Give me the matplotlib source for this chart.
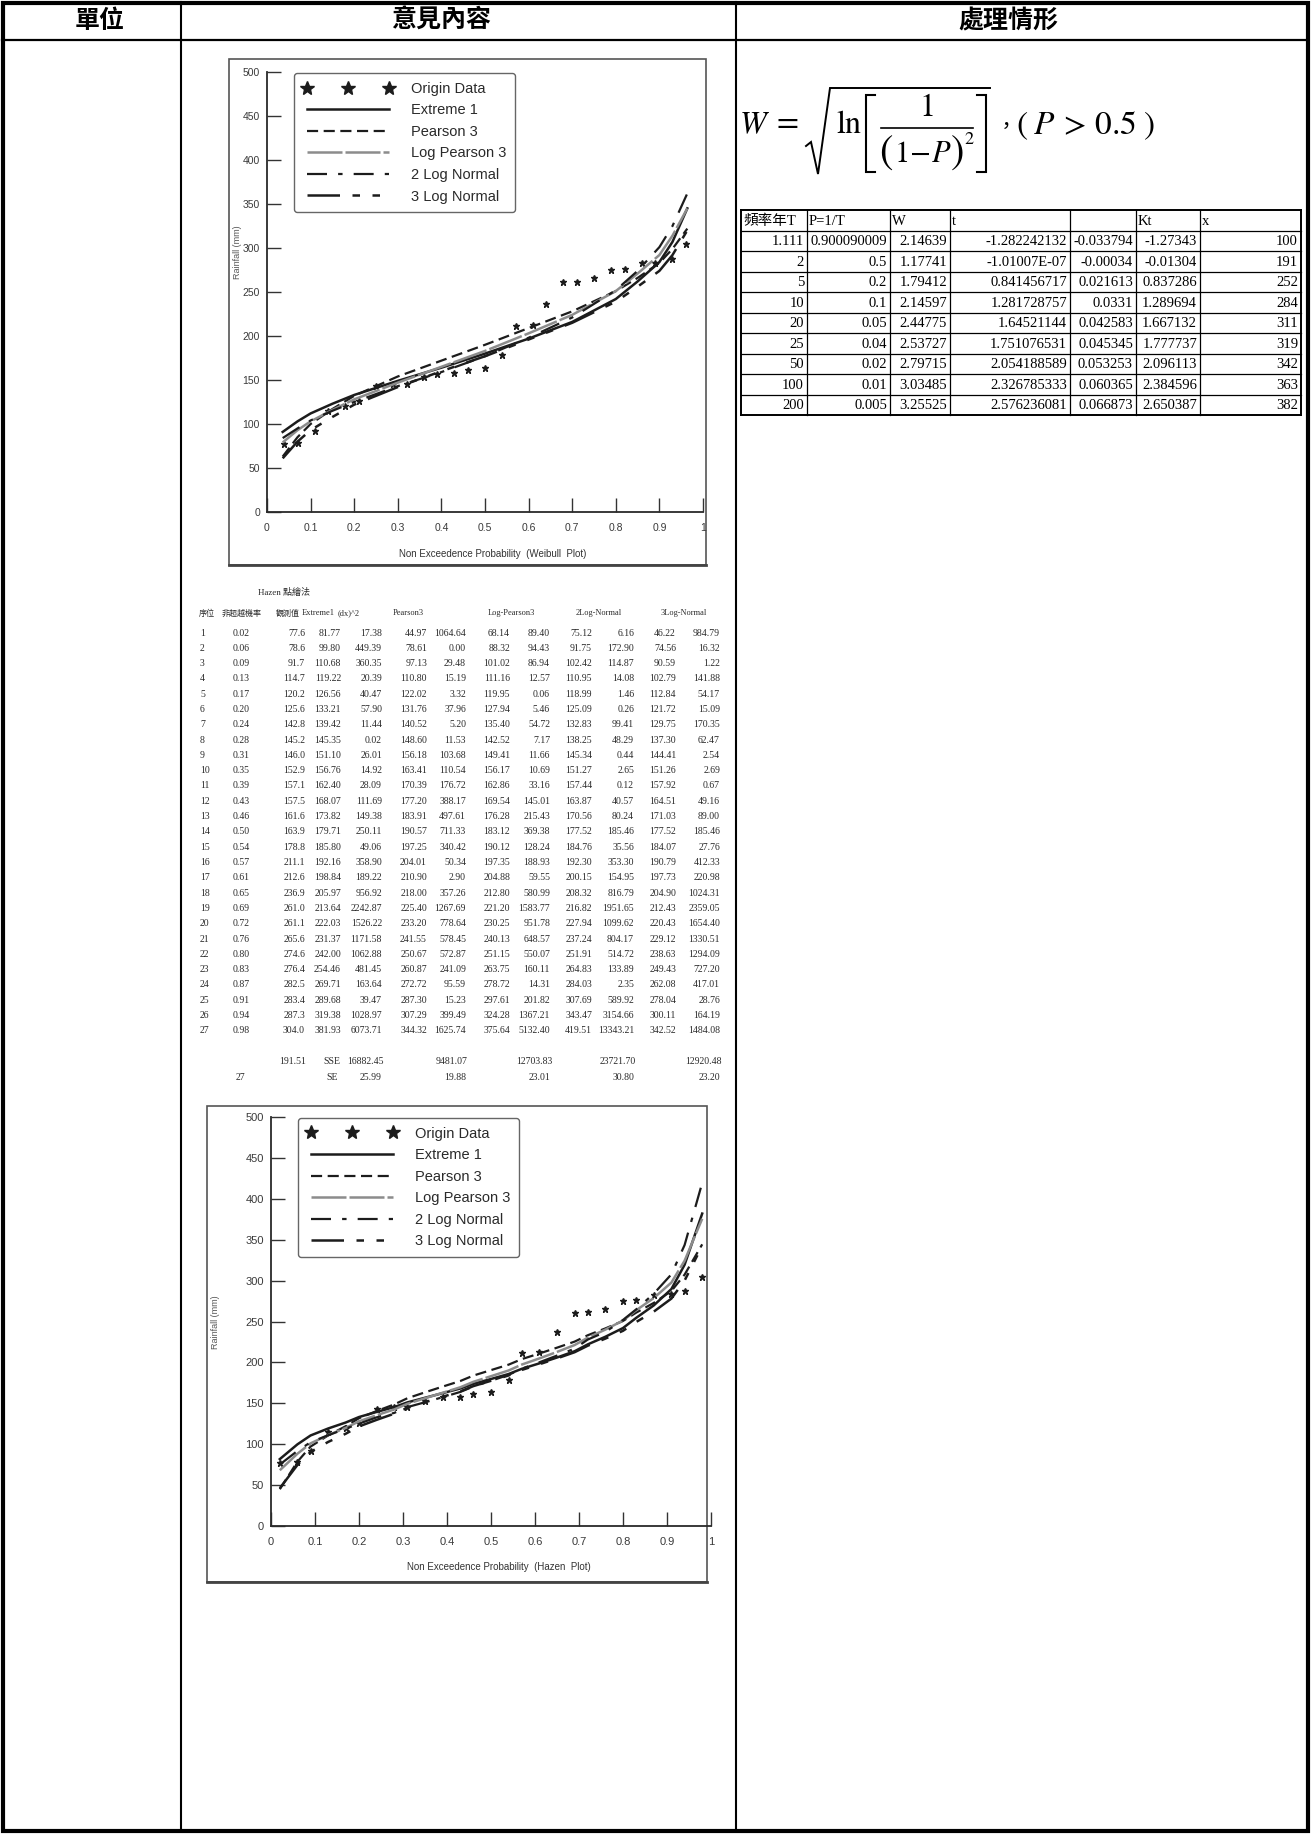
import numpy as np
import matplotlib
matplotlib.use("Agg")
import matplotlib.pyplot as plt
from matplotlib.patches import Rectangle

plt.rcParams["mathtext.fontset"] = "stix"

W_PX, H_PX, DPI = 1311, 1834, 100

# ---------------- data ----------------
column_titles = ["單位", "意見內容", "處理情形"]

rank = list(range(1, 28))
hazen_p = [0.02, 0.06, 0.09, 0.13, 0.17, 0.20, 0.24, 0.28, 0.31, 0.35, 0.39, 0.43, 0.46, 0.50,
           0.54, 0.57, 0.61, 0.65, 0.69, 0.72, 0.76, 0.80, 0.83, 0.87, 0.91, 0.94, 0.98]
observed = [77.6, 78.6, 91.7, 114.7, 120.2, 125.6, 142.8, 145.2, 146.0, 152.9, 157.1, 157.5, 161.6, 163.9,
            178.8, 211.1, 212.6, 236.9, 261.0, 261.1, 265.6, 274.6, 276.4, 282.5, 283.4, 287.3, 304.0]
extreme1 = [81.77, 99.80, 110.68, 119.22, 126.56, 133.21, 139.42, 145.35, 151.10, 156.76, 162.40, 168.07, 173.82, 179.71,
            185.80, 192.16, 198.84, 205.97, 213.64, 222.03, 231.37, 242.00, 254.46, 269.71, 289.68, 319.38, 381.93]
extreme1_d2 = [17.38, 449.39, 360.35, 20.39, 40.47, 57.90, 11.44, 0.02, 26.01, 14.92, 28.09, 111.69, 149.38, 250.11,
               49.06, 358.90, 189.22, 956.92, 2242.87, 1526.22, 1171.58, 1062.88, 481.45, 163.64, 39.47, 1028.97, 6073.71]
pearson3 = [44.97, 78.61, 97.13, 110.80, 122.02, 131.76, 140.52, 148.60, 156.18, 163.41, 170.39, 177.20, 183.91, 190.57,
            197.25, 204.01, 210.90, 218.00, 225.40, 233.20, 241.55, 250.67, 260.87, 272.72, 287.30, 307.29, 344.32]
pearson3_d2 = [1064.64, 0.00, 29.48, 15.19, 3.32, 37.96, 5.20, 11.53, 103.68, 110.54, 176.72, 388.17, 497.61, 711.33,
               340.42, 50.34, 2.90, 357.26, 1267.69, 778.64, 578.45, 572.87, 241.09, 95.59, 15.23, 399.49, 1625.74]
logpearson3 = [68.14, 88.32, 101.02, 111.16, 119.95, 127.94, 135.40, 142.52, 149.41, 156.17, 162.86, 169.54, 176.28, 183.12,
               190.12, 197.35, 204.88, 212.80, 221.20, 230.25, 240.13, 251.15, 263.75, 278.72, 297.61, 324.28, 375.64]
logpearson3_d2 = [89.40, 94.43, 86.94, 12.57, 0.06, 5.46, 54.72, 7.17, 11.66, 10.69, 33.16, 145.01, 215.43, 369.38,
                  128.24, 188.93, 59.55, 580.99, 1583.77, 951.78, 648.57, 550.07, 160.11, 14.31, 201.82, 1367.21, 5132.40]
lognormal2 = [75.12, 91.75, 102.42, 110.95, 118.99, 125.09, 132.83, 138.25, 145.34, 151.27, 157.44, 163.87, 170.56, 177.52,
              184.76, 192.30, 200.15, 208.32, 216.82, 227.94, 237.24, 251.91, 264.83, 284.03, 307.69, 343.47, 419.51]
lognormal2_d2 = [6.16, 172.90, 114.87, 14.08, 1.46, 0.26, 99.41, 48.29, 0.44, 2.65, 0.12, 40.57, 80.24, 185.46,
                 35.56, 353.30, 154.95, 816.79, 1951.65, 1099.62, 804.17, 514.72, 133.89, 2.35, 589.92, 3154.66, 13343.21]
lognormal3 = [46.22, 74.56, 90.59, 102.79, 112.84, 121.72, 129.75, 137.30, 144.41, 151.26, 157.92, 164.51, 171.03, 177.52,
              184.07, 190.79, 197.73, 204.90, 212.43, 220.43, 229.12, 238.63, 249.43, 262.08, 278.04, 300.11, 342.52]
lognormal3_d2 = [984.79, 16.32, 1.22, 141.88, 54.17, 15.09, 170.35, 62.47, 2.54, 2.69, 0.67, 49.16, 89.00, 185.46,
                 27.76, 412.33, 220.98, 1024.31, 2359.05, 1654.40, 1330.51, 1294.09, 727.20, 417.01, 28.76, 164.19, 1484.08]
sse_values = [16882.45, 9481.07, 12703.83, 23721.70, 12920.48]
se_values = [25.99, 19.88, 23.01, 30.80, 23.20]
observed_mean = 191.51
sample_size = 27

# Weibull plotting positions and fitted curves (Weibull chart)
weibull_p = [0.04, 0.07, 0.11, 0.14, 0.18, 0.21, 0.25, 0.29, 0.32, 0.36, 0.39, 0.43, 0.46, 0.50,
             0.54, 0.57, 0.61, 0.64, 0.68, 0.71, 0.75, 0.79, 0.82, 0.86, 0.89, 0.93, 0.96]
weibull_curve_p = [0.036, 0.07, 0.10, 0.15, 0.20, 0.30, 0.40, 0.50, 0.60, 0.70, 0.80, 0.85, 0.90, 0.93, 0.964]
weibull_e1 = [91, 103, 112, 123, 133, 149, 164, 180, 197, 216, 242, 262, 284, 307, 345]
weibull_p3 = [63, 85, 100, 117, 132, 154, 172, 190, 209, 228, 251, 266, 283, 299, 322]
weibull_lp3 = [79, 93, 103, 116, 128, 147, 165, 183, 203, 224, 251, 271, 292, 314, 345]
weibull_2ln = [84, 95, 104, 115, 125, 143, 159, 177, 198, 221, 252, 274, 301, 325, 362]
weibull_3ln = [61, 80, 93, 108, 122, 142, 160, 177, 196, 215, 239, 256, 274, 292, 320]

# frequency table (right column)
freq_headers = ["頻率年T", "P=1/T", "W", "t", "", "Kt", "x"]
freq_T = ["1.111", "2", "5", "10", "20", "25", "50", "100", "200"]
freq_P = ["0.900090009", "0.5", "0.2", "0.1", "0.05", "0.04", "0.02", "0.01", "0.005"]
freq_W = ["2.14639", "1.17741", "1.79412", "2.14597", "2.44775", "2.53727", "2.79715", "3.03485", "3.25525"]
freq_t = ["-1.282242132", "-1.01007E-07", "0.841456717", "1.281728757", "1.64521144",
          "1.751076531", "2.054188589", "2.326785333", "2.576236081"]
freq_corr = ["-0.033794", "-0.00034", "0.021613", "0.0331", "0.042583", "0.045345", "0.053253", "0.060365", "0.066873"]
freq_Kt = ["-1.27343", "-0.01304", "0.837286", "1.289694", "1.667132", "1.777737", "2.096113", "2.384596", "2.650387"]
freq_x = [100, 191, 252, 284, 311, 319, 342, 363, 382]

series_names = ["Extreme 1", "Pearson 3", "Log Pearson 3", "2 Log Normal", "3 Log Normal"]

# ---------------- styles ----------------
INK = "#1c1c1c"
line_styles = {
    "Extreme 1": dict(color=INK, lw=1.8, ls="-"),
    "Pearson 3": dict(color=INK, lw=1.6, ls=(0, (5, 2.5))),
    "Log Pearson 3": dict(color="#8c8c8c", lw=1.8, ls=(0, (14, 1.2))),
    "2 Log Normal": dict(color=INK, lw=1.6, ls=(0, (9, 5, 2, 5))),
    "3 Log Normal": dict(color=INK, lw=1.8, ls=(0, (13, 5, 3, 5, 3, 5, 3, 5))),
}
SERIF = ["Liberation Serif", "Noto Sans CJK TC"]
CJK = ["Noto Sans CJK TC", "DejaVu Sans"]
SANS = "Liberation Sans"

fig = plt.figure(figsize=(W_PX / DPI, H_PX / DPI), dpi=DPI)
page = fig.add_axes([0, 0, 1, 1])
page.set_xlim(0, W_PX)
page.set_ylim(H_PX, 0)
page.axis("off")


def px_box(x0, y0, x1, y1):
    return [x0 / W_PX, 1 - y1 / H_PX, (x1 - x0) / W_PX, (y1 - y0) / H_PX]


# ---------------- outer form ----------------
page.add_patch(Rectangle((2.5, 2.5), W_PX - 6, H_PX - 6, fill=False, lw=3.0, ec="black", zorder=5))
page.plot([2, W_PX - 3], [40, 40], color="black", lw=1.6, zorder=5)
for xd in (181, 736):
    page.plot([xd, xd], [2, H_PX - 3], color="black", lw=1.5, zorder=5)
for title, xc in zip(column_titles, (100, 441, 1008)):
    page.text(xc, 21, title, family=CJK, fontsize=18, fontweight="bold", ha="center", va="center")


# ---------------- charts ----------------
def draw_chart(frame, axbox, p_pts, pts, curve_p, curves, xlabel, xlab_y, ylab_xy, tick_fs):
    fx0, fy0, fx1, fy1 = frame
    page.add_patch(Rectangle((fx0, fy0), fx1 - fx0, fy1 - fy0, fill=False, lw=1.2, ec="#555555", zorder=2))
    page.plot([fx0, fx1], [fy1, fy1], color="#444444", lw=2.0, zorder=2)
    ax = fig.add_axes(px_box(*axbox))
    ax.set_facecolor("none")
    ax.plot(p_pts, pts, ls="none", marker="*", ms=5, color=INK, label="Origin Data")
    for name, vals in zip(series_names, curves):
        ax.plot(curve_p, vals, label=name, **line_styles[name])
    ax.set_xlim(0, 1)
    ax.set_ylim(0, 500)
    ax.set_xticks(np.arange(0, 1.01, 0.1))
    ax.set_xticklabels(["0"] + [f"{v:.1f}" for v in np.arange(0.1, 0.95, 0.1)] + ["1"])
    ax.set_yticks(np.arange(0, 501, 50))
    for s in ("top", "right"):
        ax.spines[s].set_visible(False)
    for s in ("left", "bottom"):
        ax.spines[s].set_color("#2a2a2a")
        ax.spines[s].set_linewidth(1.3)
    ax.tick_params(axis="both", direction="in", length=10, width=1.0, color="#333333",
                   labelsize=tick_fs, labelcolor="#3a3a3a")
    ax.tick_params(axis="x", pad=8)
    ax.tick_params(axis="y", pad=5)
    for lab in ax.get_xticklabels() + ax.get_yticklabels():
        lab.set_family(SANS)
    leg = ax.legend(loc="upper left", bbox_to_anchor=(0.062, 0.998), borderaxespad=0,
                    prop={"family": SANS, "size": 10.5}, numpoints=3, markerscale=2.0,
                    handlelength=6.2, handletextpad=1.2, labelspacing=0.52, borderpad=0.6,
                    fancybox=True, framealpha=1, edgecolor="#666666")
    leg.get_frame().set_linewidth(1.0)
    for t in leg.get_texts():
        t.set_color("#2a2a2a")
    xc = (axbox[0] + axbox[2]) / 2
    page.text(xc + 8, xlab_y, xlabel, family=SANS, fontsize=7, color="#333333", ha="center", va="center")
    page.text(ylab_xy[0], ylab_xy[1], "Rainfall (mm)", family=SANS, fontsize=6.5, color="#555555",
              rotation=90, ha="center", va="center")
    return ax


draw_chart((229, 59, 706, 565), (267, 72, 703, 512), weibull_p, observed, weibull_curve_p,
           [weibull_e1, weibull_p3, weibull_lp3, weibull_2ln, weibull_3ln],
           "Non Exceedence Probability  (Weibull  Plot)", 554, (238, 252), 7.5)
draw_chart((207, 1106, 707, 1582), (271, 1117, 711, 1526), hazen_p, observed, hazen_p,
           [extreme1, pearson3, logpearson3, lognormal2, lognormal3],
           "Non Exceedence Probability  (Hazen  Plot)", 1567, (215, 1322), 8)

# ---------------- Hazen table ----------------
TXT = "#2a2a2a"
TFS = 7
page.text(258, 592, "Hazen 點繪法", family=SERIF, fontsize=6.5, color=TXT, ha="left", va="center")
hdr_y = 613
page.text(199, hdr_y, "序位", family=CJK, fontsize=5.8, color=TXT, ha="left", va="center")
page.text(242, hdr_y, "非超越機率", family=CJK, fontsize=5.8, color=TXT, ha="center", va="center")
page.text(288, hdr_y, "觀測值", family=CJK, fontsize=5.8, color=TXT, ha="center", va="center")
for label, xc in [("Extreme1", 318), ("(dx)^2", 349), ("Pearson3", 408), ("Log-Pearson3", 511),
                  ("2Log-Normal", 599), ("3Log-Normal", 684)]:
    page.text(xc, hdr_y, label, family=SERIF, fontsize=6, color=TXT, ha="center", va="center")

right_edges = [341, 382, 427, 466, 510, 550, 592, 634, 676, 720]
value_cols = [extreme1, extreme1_d2, pearson3, pearson3_d2, logpearson3, logpearson3_d2,
              lognormal2, lognormal2_d2, lognormal3, lognormal3_d2]
row0, dy = 633, 15.3
for i in range(len(rank)):
    y = row0 + i * dy
    page.text(200, y, str(rank[i]), family=SERIF, fontsize=TFS, color=TXT, ha="left", va="center")
    page.text(241, y, f"{hazen_p[i]:.2f}", family=SERIF, fontsize=TFS, color=TXT, ha="center", va="center")
    page.text(305, y, f"{observed[i]:.1f}", family=SERIF, fontsize=TFS, color=TXT, ha="right", va="center")
    for xr, col in zip(right_edges, value_cols):
        page.text(xr, y, f"{col[i]:.2f}", family=SERIF, fontsize=TFS, color=TXT, ha="right", va="center")

y_sse = 1062
y_se = 1077
page.text(306, y_sse, f"{observed_mean:.2f}", family=SERIF, fontsize=TFS, color=TXT, ha="right", va="center")
page.text(340, y_sse, "SSE", family=SERIF, fontsize=TFS, color=TXT, ha="right", va="center")
page.text(338, y_se, "SE", family=SERIF, fontsize=TFS, color=TXT, ha="right", va="center")
page.text(240, y_se, str(sample_size), family=SERIF, fontsize=TFS, color=TXT, ha="center", va="center")
for xr, v_sse, v_se in zip(right_edges[1::2], sse_values, se_values):
    page.text(xr + 2, y_sse, f"{v_sse:.2f}", family=SERIF, fontsize=TFS, color=TXT, ha="right", va="center")
    page.text(xr, y_se, f"{v_se:.2f}", family=SERIF, fontsize=TFS, color=TXT, ha="right", va="center")

# ---------------- formula: W = sqrt( ln[ 1 / (1-P)^2 ] ), (P > 0.5) ----------------
FML = 23
page.text(739, 125, r"$W$", fontsize=FML, ha="left", va="center")
page.text(777, 124, "=", family="STIXGeneral", fontsize=FML, ha="left", va="center")
# radical sign
page.plot([806, 811, 818, 830, 990], [146, 142, 174, 88, 88], color="black", lw=1.4,
          solid_joinstyle="miter")
page.text(836, 125, "ln", family="STIXGeneral", fontsize=FML, ha="left", va="center")
# square brackets
page.plot([875, 866, 866, 875], [95, 95, 172, 172], color="black", lw=1.5, solid_joinstyle="miter")
page.plot([977, 986, 986, 977], [95, 95, 172, 172], color="black", lw=1.5, solid_joinstyle="miter")
# fraction
page.plot([881, 973], [128, 128], color="black", lw=1.2)
page.text(926, 107, r"$1$", fontsize=FML, ha="center", va="center")
page.text(879, 152, r"$($", fontsize=29, ha="left", va="center")
page.text(894, 153, r"$1\!-\!P$", fontsize=22, ha="left", va="center")
page.text(950, 152, r"$)$", fontsize=29, ha="left", va="center")
page.text(964, 139, r"$2$", fontsize=13, ha="left", va="center")
page.text(996, 127, "，", family=CJK, fontsize=15, ha="left", va="center")
page.text(1016, 125, r"$(\;P\,>\,0.5\;)$", fontsize=24, ha="left", va="center")

# ---------------- frequency table ----------------
col_x = [741, 807, 890, 950, 1070, 1136, 1200, 1301]
row_top, row_h = 210, 20.5
n_rows = len(freq_T) + 1
y_bottom = row_top + n_rows * row_h
for k in range(n_rows + 1):
    lw = 1.4 if k in (0, n_rows) else 0.9
    page.plot([col_x[0], col_x[-1]], [row_top + k * row_h] * 2, color="black", lw=lw, zorder=4)
for j, xv in enumerate(col_x):
    lw = 1.4 if j in (0, len(col_x) - 1) else 0.9
    page.plot([xv, xv], [row_top, y_bottom], color="black", lw=lw, zorder=4)
FFS = 10.5
for j, h in enumerate(freq_headers):
    page.text(col_x[j] + 2, row_top + row_h / 2 + 1, h, family=SERIF, fontsize=FFS, ha="left", va="center")
columns = [freq_T, freq_P, freq_W, freq_t, freq_corr, freq_Kt, [str(v) for v in freq_x]]
for r in range(len(freq_T)):
    y = row_top + (r + 1.5) * row_h + 1
    for j, col in enumerate(columns):
        page.text(col_x[j + 1] - 3, y, col[r], family=SERIF, fontsize=FFS, ha="right", va="center")

fig.savefig("out.png", dpi=DPI)
